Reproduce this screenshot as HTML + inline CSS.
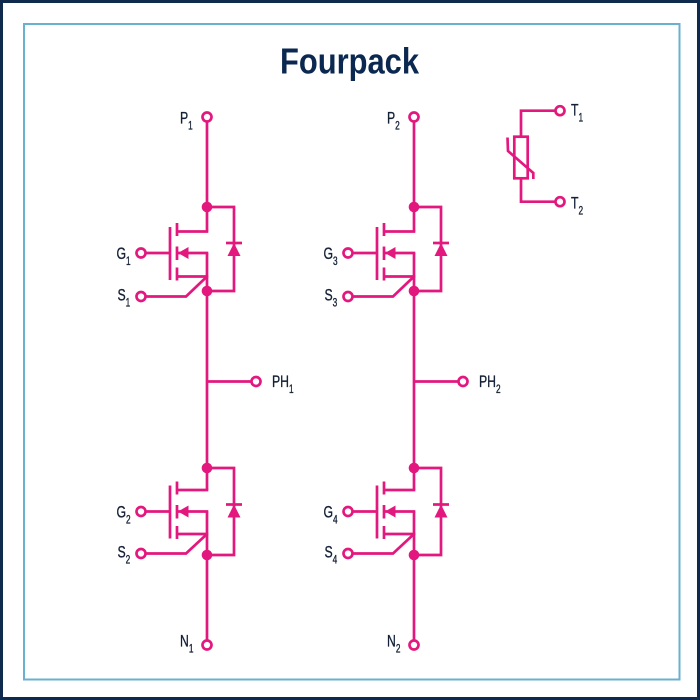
<!DOCTYPE html>
<html>
<head>
<meta charset="utf-8">
<style>
  html, body { margin:0; padding:0; background:#ffffff; }
  body { width:700px; height:700px; overflow:hidden; }
  svg { display:block; }
  .lbl { font-family:"Liberation Sans", sans-serif; font-size:17px; fill:#142036; stroke:#142036; stroke-width:0.35; }
</style>
</head>
<body>
<svg width="700" height="700" viewBox="0 0 700 700" xmlns="http://www.w3.org/2000/svg">
  <rect x="0" y="0" width="700" height="700" fill="#ffffff"/>
  <rect x="1.5" y="1.5" width="697" height="697" fill="none" stroke="#0f2a4c" stroke-width="3"/>
  <rect x="24" y="24" width="655.5" height="655.5" fill="none" stroke="#68b2d0" stroke-width="2"/>

  <text x="280" y="73.3" font-family="Liberation Sans, sans-serif" font-size="36" font-weight="bold" fill="#0b2850" textLength="139" lengthAdjust="spacingAndGlyphs">Fourpack</text>

  <defs>
    <g id="col" fill="none" stroke="#e3187f" stroke-width="2.7" stroke-linecap="butt" stroke-linejoin="miter">
      <line x1="0" y1="121.5" x2="0" y2="231.5"/>
      <line x1="1.3" y1="231.5" x2="-30" y2="231.5"/>
      <line x1="0" y1="253" x2="0" y2="490"/>
      <line x1="1.3" y1="490" x2="-30" y2="490"/>
      <line x1="0" y1="511.5" x2="0" y2="640.5"/>
      <polyline points="0,207 27,207 27,291 0,291"/>
      <polyline points="0,468 27,468 27,555 0,555"/>
      <line x1="0" y1="381.5" x2="44.5" y2="381.5"/>
      <circle cx="49" cy="381.5" r="4.5" fill="#fff"/>
      <circle cx="0" cy="117" r="4.5" fill="#fff"/>
      <circle cx="0" cy="645" r="4.5" fill="#fff"/>

      <line x1="-37" y1="227" x2="-37" y2="280"/>
      <line x1="-30" y1="223" x2="-30" y2="236"/>
      <line x1="-30" y1="246.5" x2="-30" y2="260"/>
      <line x1="-30" y1="267.5" x2="-30" y2="280.5"/>
      <circle cx="-66" cy="253" r="4.5" fill="#fff"/>
      <line x1="-61.5" y1="253" x2="-37" y2="253"/>
      <line x1="-30" y1="253" x2="1.3" y2="253"/>
      <line x1="-30" y1="276.5" x2="1.3" y2="276.5"/>
      <circle cx="-66" cy="296.5" r="4.5" fill="#fff"/>
      <polyline points="-61.5,296.5 -21,296.5 0,276.5"/>
      <line x1="19" y1="243" x2="35" y2="243"/>

      <line x1="-37" y1="485.5" x2="-37" y2="538.5"/>
      <line x1="-30" y1="481.5" x2="-30" y2="494.5"/>
      <line x1="-30" y1="505" x2="-30" y2="518.5"/>
      <line x1="-30" y1="526" x2="-30" y2="539"/>
      <circle cx="-66" cy="511.5" r="4.5" fill="#fff"/>
      <line x1="-61.5" y1="511.5" x2="-37" y2="511.5"/>
      <line x1="-30" y1="511.5" x2="1.3" y2="511.5"/>
      <line x1="-30" y1="534" x2="1.3" y2="534"/>
      <circle cx="-66" cy="553.5" r="4.5" fill="#fff"/>
      <polyline points="-61.5,553.5 -21,553.5 0,534"/>
      <line x1="19" y1="504.5" x2="35" y2="504.5"/>
    </g>
    <g id="colfill" fill="#e3187f" stroke="none">
      <circle cx="0" cy="207" r="5.3"/>
      <circle cx="0" cy="291" r="5.3"/>
      <circle cx="0" cy="468" r="5.3"/>
      <circle cx="0" cy="555" r="5.3"/>
      <polygon points="-29,253 -18.5,247 -18.5,259"/>
      <polygon points="-29,511.5 -18.5,505.5 -18.5,517.5"/>
      <polygon points="27,243 20.5,256 33.5,256"/>
      <polygon points="27,504.5 20.5,517.5 33.5,517.5"/>
    </g>
  </defs>

  <g transform="translate(207,0)">
    <use href="#col"/>
    <use href="#colfill"/>
  </g>
  <g transform="translate(414,0)">
    <use href="#col"/>
    <use href="#colfill"/>
  </g>

  <g fill="none" stroke="#e3187f" stroke-width="2.7">
    <polyline points="521,136.7 521,110.7 555.5,110.7"/>
    <circle cx="560" cy="110.7" r="4.5" fill="#fff"/>
    <rect x="514.3" y="136.7" width="13.4" height="41.6"/>
    <polyline points="521,178.3 521,201.7 555.5,201.7"/>
    <circle cx="560" cy="201.7" r="4.5" fill="#fff"/>
    <polyline points="507.5,137.5 508,151 533.3,173 533.3,179"/>
  </g>

  <g class="lbl">
    <text transform="translate(180,123.5) scale(0.72 1)">P<tspan font-size="11.5" dy="6">1</tspan></text>
    <text transform="translate(387,123.5) scale(0.72 1)">P<tspan font-size="11.5" dy="6">2</tspan></text>

    <text transform="translate(116.5,259) scale(0.72 1)">G<tspan font-size="11.5" dy="6">1</tspan></text>
    <text transform="translate(117.5,300.5) scale(0.72 1)">S<tspan font-size="11.5" dy="6">1</tspan></text>
    <text transform="translate(323.5,259) scale(0.72 1)">G<tspan font-size="11.5" dy="6">3</tspan></text>
    <text transform="translate(324.5,300.5) scale(0.72 1)">S<tspan font-size="11.5" dy="6">3</tspan></text>

    <text transform="translate(272,387) scale(0.72 1)">PH<tspan font-size="11.5" dy="6">1</tspan></text>
    <text transform="translate(479,387) scale(0.72 1)">PH<tspan font-size="11.5" dy="6">2</tspan></text>

    <text transform="translate(116.5,517.5) scale(0.72 1)">G<tspan font-size="11.5" dy="6">2</tspan></text>
    <text transform="translate(117.5,557.5) scale(0.72 1)">S<tspan font-size="11.5" dy="6">2</tspan></text>
    <text transform="translate(323.5,517.5) scale(0.72 1)">G<tspan font-size="11.5" dy="6">4</tspan></text>
    <text transform="translate(324.5,557.5) scale(0.72 1)">S<tspan font-size="11.5" dy="6">4</tspan></text>

    <text transform="translate(180,646.5) scale(0.72 1)">N<tspan font-size="11.5" dy="6">1</tspan></text>
    <text transform="translate(387,646.5) scale(0.72 1)">N<tspan font-size="11.5" dy="6">2</tspan></text>

    <text transform="translate(571,115.5) scale(0.72 1)">T<tspan font-size="11.5" dy="6">1</tspan></text>
    <text transform="translate(571,208.5) scale(0.72 1)">T<tspan font-size="11.5" dy="6">2</tspan></text>
  </g>
</svg>
</body>
</html>
